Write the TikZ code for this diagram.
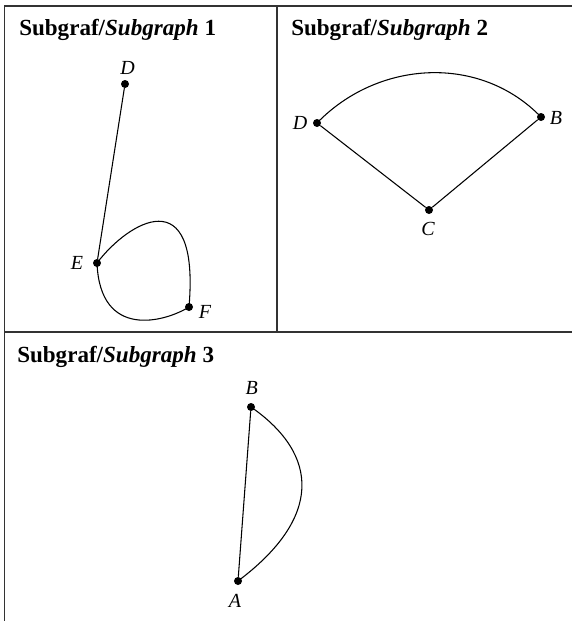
\documentclass[tikz,border=0pt]{standalone}
\usepackage{fontspec}
\setmainfont{Liberation Serif}
\usetikzlibrary{positioning}

\begin{document}
\begin{tikzpicture}[x=0.75pt, y=-0.75pt,
    vtx/.style={circle, fill=black, inner sep=0pt, minimum size=6pt},
    vlbl/.style={font=\fontsize{15}{17}\selectfont\itshape, inner sep=0pt},
    ttl/.style={font=\fontsize{17.3}{20}\selectfont\bfseries, anchor=base west, inner sep=0pt},
    frame/.style={draw=black!80, line width=0.9pt},
    edge/.style={draw=black, line width=0.8pt}]

  \useasboundingbox (0,0) rectangle (572,621);

  % frame of the three panels
  \draw[frame] (4.7,621) -- (4.7,6) -- (572,6);
  \draw[frame] (277,6) -- (277,332);
  \draw[frame] (4.7,332) -- (572,332);

  \node[ttl] (t1) at (19,35)  {Subgraf/\textit{Subgraph} 1};
  \node[ttl] (t2) at (291,35) {Subgraf/\textit{Subgraph} 2};
  \node[ttl] (t3) at (17,362) {Subgraf/\textit{Subgraph} 3};

  % subgraph 1
  \node[vtx] (D1) at (125,84)  {};
  \node[vtx] (E1) at (97,263)  {};
  \node[vtx] (F1) at (189,307) {};
  \node[vlbl] at (127.5,68) {D};
  \node[vlbl] at (77,263)   {E};
  \node[vlbl] at (205,312)  {F};
  \draw[edge] (D1) -- (E1);
  \draw[edge] (E1.center) .. controls (128,222) and (200,178) .. (F1.center);
  \draw[edge] (F1.center) .. controls (165,322) and (100,340) .. (E1.center);

  % subgraph 2
  \node[vtx] (D2) at (317,123) {};
  \node[vtx] (B2) at (541,117) {};
  \node[vtx] (C2) at (429,210) {};
  \node[vlbl] at (300,122.5) {D};
  \node[vlbl] at (556,117.5) {B};
  \node[vlbl] at (428,229)   {C};
  \draw[edge] (D2) -- (C2) -- (B2);
  \draw[edge] (D2.center) .. controls (378,60) and (480,54) .. (B2.center);

  % subgraph 3
  \node[vtx] (B3) at (251,407) {};
  \node[vtx] (A3) at (238,581) {};
  \node[vlbl] at (251.7,388) {B};
  \node[vlbl] at (235,601)   {A};
  \draw[edge] (B3) -- (A3);
  \draw[edge] (B3.center) .. controls (320,455) and (322,518) .. (A3.center);

\end{tikzpicture}
\end{document}
